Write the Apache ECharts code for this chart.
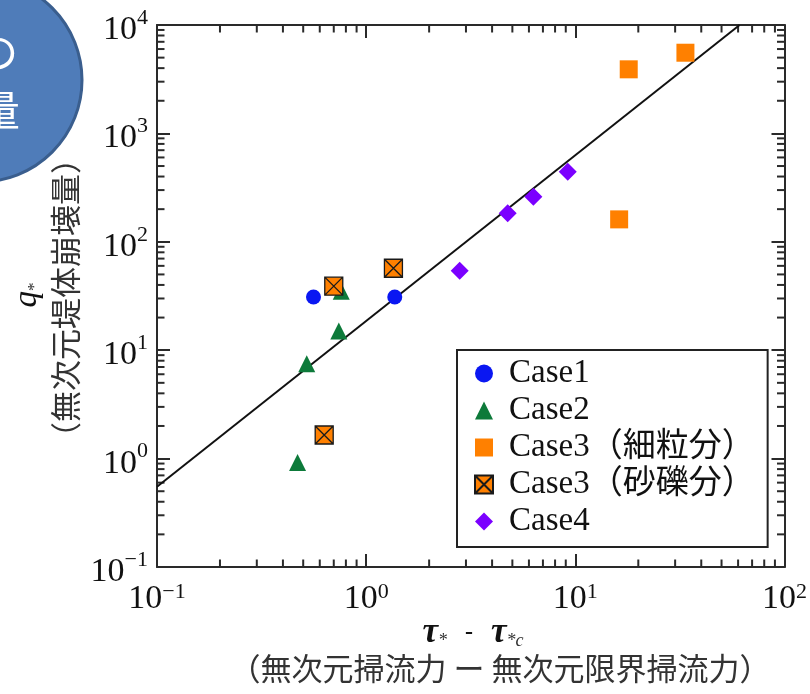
<!DOCTYPE html>
<html><head><meta charset="utf-8">
<script src="https://cdn.jsdelivr.net/npm/echarts@6/dist/echarts.min.js"></script>
<style>html,body{margin:0;padding:0;background:#fff}#c{width:810px;height:694px}</style>
</head><body><div id="c"></div>
<script>
// ---- data ----
const case1 = [[0.56, 31], [1.37, 31]];
const case2 = [[0.76, 35], [0.74, 15], [0.52, 7.5], [0.47, 0.92]];
const case3Fine = [[18, 3900], [33.6, 5550], [16.2, 161]];
const case3Gravel = [[0.70, 39], [1.35, 57], [0.63, 1.65]];
const case4 = [[2.8, 54], [4.75, 183], [6.3, 261], [9.2, 443]];
const fitLine = [[0.1, 0.55], [61, 10000]];
const seriesNames = ['Case1', 'Case2', 'Case3（細粒分）', 'Case3（砂礫分）', 'Case4'];
const xTickExps = [-1, 0, 1, 2];
const yTickExps = [-1, 0, 1, 2, 3, 4];
const xTitle = '（無次元掃流力 ー 無次元限界掃流力）';
const yTitle = '（無次元堤体崩壊量）';

// minor tick values 2..9 x 10^k
function minors(exps) {
  const out = [];
  for (let i = 0; i < exps.length - 1; i++) for (let m = 2; m <= 9; m++) out.push([m * Math.pow(10, exps[i])]);
  return out;
}
const xMinor = minors(xTickExps).map(v => [v[0], 1]);
const yMinor = minors(yTickExps).map(v => [1, v[0]]);

const SERIF = "'Liberation Serif','Noto Sans CJK JP',serif";
const AX = '#2a2a2a';
const supLabel = (v) => {
  const e = Math.round(Math.log10(v));
  return '{b|10}{s|' + String(e).replace('-', '−') + '}';
};
function labelRich(padTop) {
  return {
    b: { fontFamily: SERIF, fontSize: 34, color: '#111', lineHeight: 36, padding: [padTop, 0, 0, 0] },
    s: { fontFamily: SERIF, fontSize: 22, color: '#111', lineHeight: 22, verticalAlign: 'top' }
  };
}
function logAxis(min, max, pos, showLabel, margin, padTop) {
  return {
    type: 'log', logBase: 10, min: min, max: max, position: pos,
    axisLine: { show: true, onZero: false, lineStyle: { color: AX, width: 2 } },
    axisTick: { show: true, inside: true, length: 13, lineStyle: { color: AX, width: 2 } },
    axisLabel: { show: showLabel, margin: margin, formatter: supLabel, rich: labelRich(padTop) },
    splitLine: { show: false }, minorTick: { show: false }
  };
}
function tickLine(x1, y1, x2, y2) {
  return { type: 'line', shape: { x1, y1, x2, y2 }, style: { stroke: AX, lineWidth: 2 } };
}
const MT = 7.5;

const chart = echarts.init(document.getElementById('c'), null, { renderer: 'canvas' });
chart.setOption({
  animation: false,
  backgroundColor: '#fff',
  grid: { left: 157, top: 25, right: 20, bottom: 127 },
  xAxis: [logAxis(0.1, 100, 'bottom', true, 14, 0), logAxis(0.1, 100, 'top', false, 8, 0)],
  yAxis: [logAxis(0.1, 10000, 'left', true, 9, 10), logAxis(0.1, 10000, 'right', false, 8, 0)],
  legend: {
    data: seriesNames, orient: 'vertical', left: 457, top: 350,
    itemWidth: 18, itemHeight: 18, itemGap: 4,
    padding: [7, 13, 9, 17],
    borderColor: '#222', borderWidth: 2, backgroundColor: '#fff', borderRadius: 0,
    selectedMode: false,
    textStyle: { fontFamily: SERIF, fontSize: 33, color: '#111', lineHeight: 32, padding: [0, 0, 0, 11] }
  },
  series: [
    { type: 'custom', silent: true, data: xMinor, encode: { x: 0, y: 1 }, z: 1,
      renderItem: (params, api) => {
        const p = api.coord([api.value(0), 1]); const cs = params.coordSys;
        return { type: 'group', children: [
          tickLine(p[0], cs.y + cs.height, p[0], cs.y + cs.height - MT),
          tickLine(p[0], cs.y, p[0], cs.y + MT)] };
      } },
    { type: 'custom', silent: true, data: yMinor, encode: { x: 0, y: 1 }, z: 1,
      renderItem: (params, api) => {
        const p = api.coord([1, api.value(1)]); const cs = params.coordSys;
        return { type: 'group', children: [
          tickLine(cs.x, p[1], cs.x + MT, p[1]),
          tickLine(cs.x + cs.width, p[1], cs.x + cs.width - MT, p[1])] };
      } },
    { type: 'line', data: fitLine, symbol: 'none', silent: true, z: 2,
      lineStyle: { color: '#111', width: 2 } },
    { name: seriesNames[0], type: 'scatter', data: case1, symbol: 'circle', symbolSize: 15, z: 3,
      itemStyle: { color: '#0a17f2', opacity: 1 } },
    { name: seriesNames[1], type: 'scatter', data: case2, symbol: 'triangle', symbolSize: 17, z: 3,
      itemStyle: { color: '#0d7a3a', opacity: 1 } },
    { name: seriesNames[2], type: 'scatter', data: case3Fine, symbol: 'rect', symbolSize: 18, z: 3,
      itemStyle: { color: '#ff8000', opacity: 1 } },
    { name: seriesNames[3], type: 'scatter', data: case3Gravel, z: 4,
      symbol: 'path://M0,0H10V10H0Z M0,0L10,10 M10,0L0,10', symbolSize: 18,
      itemStyle: { color: '#ff8000', borderColor: '#1a1a1a', borderWidth: 1.3, opacity: 1 } },
    { name: seriesNames[4], type: 'scatter', data: case4, symbol: 'diamond', symbolSize: 18, z: 3,
      itemStyle: { color: '#7b00ff', opacity: 1 } }
  ],
  graphic: [
    { type: 'circle', shape: { cx: -20, cy: 80, r: 102 }, style: { fill: '#4f7cb9', stroke: '#3a5e8e', lineWidth: 3 } },
    { type: 'text', x: 18, y: 52, style: { text: '堤体の', fill: '#fff', font: "42px 'Noto Sans CJK JP'", align: 'right', verticalAlign: 'middle' } },
    { type: 'text', x: 20, y: 110, style: { text: '崩壊量', fill: '#fff', font: "42px 'Noto Sans CJK JP'", align: 'right', verticalAlign: 'middle' } },
    { type: 'text', x: 27, y: 295, rotation: Math.PI / 2,
      style: { text: '{q|q}{s|*}', align: 'center', verticalAlign: 'middle',
        rich: { q: { fontFamily: SERIF, fontStyle: 'italic', fontSize: 33, fill: '#111', lineHeight: 33 },
                s: { fontFamily: SERIF, fontSize: 17, fill: '#333', lineHeight: 17, verticalAlign: 'bottom' } } } },
    { type: 'text', x: 65, y: 298, rotation: Math.PI / 2,
      style: { text: yTitle, fill: '#333', font: "31px 'Noto Sans CJK JP'", align: 'center', verticalAlign: 'middle' } },
    { type: 'text', x: 473, y: 633,
      style: { text: '{t|τ}{a|*}{m|   -   }{t|τ}{a|*c}', align: 'center', verticalAlign: 'middle',
        rich: { t: { fontFamily: SERIF, fontStyle: 'italic', fontWeight: 'bold', fontSize: 35, fill: '#111', lineHeight: 34 },
                a: { fontFamily: SERIF, fontStyle: 'italic', fontSize: 18, fill: '#333', lineHeight: 18, verticalAlign: 'bottom' },
                m: { fontFamily: SERIF, fontWeight: 'bold', fontSize: 24, fill: '#111', lineHeight: 34 } } } },
    { type: 'text', x: 500, y: 668,
      style: { text: xTitle, fill: '#333', font: "31px 'Noto Sans CJK JP'", align: 'center', verticalAlign: 'middle' } }
  ]
});
</script>
</body></html>
